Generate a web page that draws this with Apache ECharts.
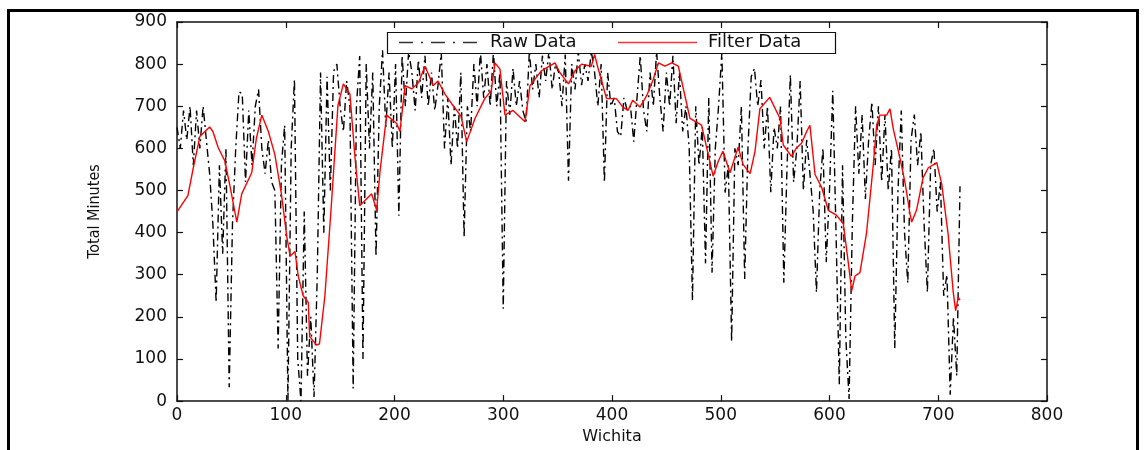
<!DOCTYPE html>
<html>
<head>
<meta charset="utf-8">
<script src="https://cdn.jsdelivr.net/npm/echarts@6/dist/echarts.min.js"></script>
<style>
html,body{margin:0;padding:0;background:#fff;}
#c{width:1144px;height:450px;}
</style>
</head>
<body>
<div id="c"></div>
<script>
// ---- data ----
const xTicks = [0, 100, 200, 300, 400, 500, 600, 700, 800];
const yTicks = [0, 100, 200, 300, 400, 500, 600, 700, 800, 900];
const rawStep = 3; // raw samples every 3 units, starting at 0
const rawY = [
  650,600,690,620,700,560,690,600,700,620,
  540,420,234,560,350,600,33,420,600,734,
  730,520,690,560,700,740,600,540,620,520,
  500,125,560,655,0,600,764,100,0,450,
  60,200,10,300,780,400,770,500,783,800,
  700,640,760,700,30,700,819,100,800,600,
  780,343,700,833,650,780,600,800,440,820,
  700,830,780,690,810,720,820,700,780,690,
  750,827,600,720,560,700,600,780,389,700,
  640,800,700,830,720,800,700,830,700,780,
  219,760,680,790,700,760,690,663,830,740,
  800,720,820,760,830,740,800,780,700,823,
  523,800,740,830,750,800,760,830,780,700,
  800,519,780,700,720,640,628,720,690,700,
  616,720,820,690,640,780,700,830,720,640,
  780,700,820,660,780,640,700,600,238,700,
  560,650,327,720,305,600,700,827,495,560,
  141,600,560,700,290,600,770,790,700,762,
  600,700,496,650,600,700,281,560,775,520,
  600,760,500,620,540,450,258,500,600,330,
  500,737,400,40,560,150,5,420,700,540,
  680,480,620,710,560,700,520,680,500,600,
  125,500,690,400,280,620,680,560,640,420,
  258,560,600,450,520,250,300,15,200,60,
  510
];
const filterX = [0,10,15,21,30,33,38,44,49,55,59.5,68.7,73,78,84,90,96,101,104,108.5,111.5,116,120.7,122,128.4,131,136,142,148,153,159,163.7,168,179,183.6,186.7,192.8,202,205,209.7,215.9,222,228,235.7,240,246.4,252.6,261,266.4,274,283,289,292.4,297,301.6,309,320,324.6,335,347.6,352,360,366,372,381,384,387,395,404,410,414.7,419,425.7,431.9,438,442.6,448.7,455,461,471.7,482.4,488.5,493,497.8,502,508.5,516,520.5,527,531.5,536,545,554.5,557.5,565,569.7,574.3,579,582,586.7,592.8,598.9,606.6,612.7,617.3,620.4,623.5,628,634,640,643.4,646.4,652.6,655.6,658.6,664.8,669.4,674,675.6,680,686,690.9,698.6,703.2,709,713.8,716,718.4,720];
const filterY = [449,488,554,628,651,640,601,570,507,425,492,542,624,679,640,585,492,390,344,355,297,250,234,153,133,136,250,468,702,753,729,577,464,492,453,546,679,659,640,749,741,756,795,749,760,729,706,677,616,671,718,737,803,788,679,690,663,749,784,803,780,753,784,800,795,823,792,718,718,698,690,714,698,725,764,803,795,803,795,671,655,585,534,570,593,542,603,562,540,593,694,721,671,608,581,601,612,640,655,538,507,453,441,421,328,262,297,305,398,554,655,679,679,694,647,577,519,445,425,453,530,554,566,515,398,258,215,246,240];
const seriesNames = ['Raw Data', 'Filter Data'];
const xName = 'Wichita';
const yName = 'Total Minutes';

const rawData = rawY.map((v, i) => [i * rawStep, v]);
const filterData = filterX.map((x, i) => [x, filterY[i]]);

const RAW_DASH = [8, 4, 2, 4];
const chart = echarts.init(document.getElementById('c'), null, {renderer: 'canvas'});
const labelFont = {fontFamily: 'DejaVu Sans', fontSize: 17, color: '#111'};
const axisLine = {show: true, onZero: false, lineStyle: {color: '#111', width: 1.5}};
const tickIn = {show: true, inside: true, length: 6, lineStyle: {color: '#111', width: 1.2}};
const legendText = {fontFamily: 'DejaVu Sans', fontSize: 18, color: '#111', padding: [0, 0, 0, 5]};
const hiddenIcon = {color: 'rgba(0,0,0,0)', borderWidth: 0};

chart.setOption({
  animation: false,
  backgroundColor: '#ffffff',
  grid: {left: 177, right: 97, top: 22, bottom: 43, containLabel: false},
  xAxis: [
    {type: 'value', min: 0, max: 800, interval: 100, position: 'bottom',
     axisLine: axisLine, axisTick: tickIn, splitLine: {show: false},
     axisLabel: Object.assign({margin: 6, formatter: v => xTicks.includes(v) ? String(v) : ''}, labelFont),
     name: xName, nameLocation: 'middle', nameGap: 27,
     nameTextStyle: {fontFamily: 'DejaVu Sans', fontSize: 16, color: '#111'}},
    {type: 'value', min: 0, max: 800, interval: 100, position: 'top',
     axisLine: axisLine, axisTick: tickIn, axisLabel: {show: false}, splitLine: {show: false}}
  ],
  yAxis: [
    {type: 'value', min: 0, max: 900, interval: 100, position: 'left',
     axisLine: axisLine, axisTick: tickIn, splitLine: {show: false},
     axisLabel: Object.assign({margin: 10, formatter: v => yTicks.includes(v) ? String(v) : ''}, labelFont),
     name: yName, nameLocation: 'middle', nameGap: 74, nameRotate: 90,
     nameTextStyle: {fontFamily: "'Liberation Sans Narrow', 'DejaVu Sans Condensed', sans-serif", fontSize: 16, color: '#111'}},
    {type: 'value', min: 0, max: 900, interval: 100, position: 'right',
     axisLine: axisLine, axisTick: tickIn, axisLabel: {show: false}, splitLine: {show: false}}
  ],
  legend: [
    {data: [{name: seriesNames[0], icon: 'rect'}], left: 398, top: 33, padding: 0, itemWidth: 82, itemHeight: 18, z: 20,
     itemStyle: hiddenIcon, textStyle: legendText},
    {data: [{name: seriesNames[1], icon: 'rect'}], left: 618, top: 33, padding: 0, itemWidth: 80, itemHeight: 18, z: 20,
     itemStyle: hiddenIcon, textStyle: legendText}
  ],
  graphic: [
    {type: 'rect', z: 15, shape: {x: 387.5, y: 32.5, width: 448, height: 21},
     style: {fill: '#fff', stroke: '#111', lineWidth: 1.2}},
    {type: 'line', z: 21, shape: {x1: 399, y1: 42.5, x2: 480, y2: 42.5},
     style: {stroke: '#333', lineWidth: 1.4, lineDash: [14, 8, 2, 8]}},
    {type: 'line', z: 21, shape: {x1: 618, y1: 42.5, x2: 697, y2: 42.5},
     style: {stroke: '#ff3333', lineWidth: 1.4}},
    {type: 'rect', z: 30, shape: {x: 8.5, y: 10.5, width: 1129, height: 470},
     style: {fill: 'none', stroke: '#000', lineWidth: 3}}
  ],
  series: [
    {name: seriesNames[0], type: 'line', data: rawData, symbol: 'none', z: 3,
     xAxisIndex: 0, yAxisIndex: 0,
     lineStyle: {color: '#000', width: 1.4, type: RAW_DASH}, itemStyle: {color: '#000'}},
    {name: seriesNames[1], type: 'line', data: filterData, symbol: 'none', z: 4,
     xAxisIndex: 0, yAxisIndex: 0,
     lineStyle: {color: '#ff0000', width: 1.4}, itemStyle: {color: '#ff0000'}}
  ]
});
</script>
</body>
</html>
